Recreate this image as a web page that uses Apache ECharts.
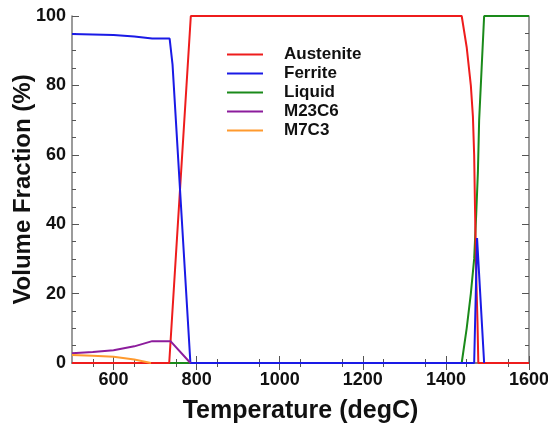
<!DOCTYPE html>
<html>
<head>
<meta charset="utf-8">
<script src="https://cdn.jsdelivr.net/npm/echarts@6/dist/echarts.min.js"></script>
<style>html,body{margin:0;padding:0;background:#fff}#c{width:548px;height:430px}</style>
</head>
<body>
<div id="c"></div>
<script>
// Temperatures (degC) and volume fractions (%)
var austeniteT = [500, 734, 786, 1438, 1450, 1460, 1465, 1468, 1470, 1473, 1476, 1478, 1600];
var austeniteV = [0, 0, 100, 100, 91, 80, 71, 60, 45, 25, 12, 0, 0];
var ferriteT = [500, 550, 600, 650, 693, 735, 742, 785, 1468, 1475, 1492];
var ferriteV = [94.8, 94.7, 94.5, 94.1, 93.5, 93.5, 86, 0, 0, 36, 0];
var liquidT = [500, 1438, 1450, 1460, 1468, 1473, 1477, 1480, 1486, 1492, 1600];
var liquidV = [0, 0, 10, 20, 30, 43, 55, 70, 85, 100, 100];
var m23c6T = [500, 550, 600, 650, 693, 737, 785];
var m23c6V = [2.8, 3.2, 3.7, 4.8, 6.3, 6.3, 0];
var m7c3T = [500, 550, 600, 650, 690];
var m7c3V = [2.3, 2.1, 1.8, 1.0, 0];

var seriesNames = ['Austenite', 'Ferrite', 'Liquid', 'M23C6', 'M7C3'];
var seriesColors = ['#ee1c1c', '#1a1ae6', '#1a8a1a', '#8c1c9c', '#ff9a2e'];
var seriesZ = [3, 4, 2, 5, 6];
var xTicks = [600, 800, 1000, 1200, 1400, 1600];
var yTicks = [0, 20, 40, 60, 80, 100];

function pairs(t, v) { return t.map(function (x, i) { return [x, v[i]]; }); }
var allData = [pairs(austeniteT, austeniteV), pairs(ferriteT, ferriteV), pairs(liquidT, liquidV),
               pairs(m23c6T, m23c6V), pairs(m7c3T, m7c3V)];

var font = 'Arial, "Liberation Sans", sans-serif';
var tickStyle = { show: true, inside: true, length: 7, lineStyle: { color: '#555', width: 1 } };
var minorStyle = { show: true, splitNumber: 4, length: 4, lineStyle: { color: '#555', width: 1 } };
var lineStyleAxis = { show: true, lineStyle: { color: '#7a7a7a', width: 1.5 } };
var plain = function (v) { return String(v); };

var chart = echarts.init(document.getElementById('c'));
chart.setOption({
  animation: false,
  grid: { left: 72, right: 19, top: 16, bottom: 67, containLabel: false, outerBoundsMode: 'none' },
  legend: {
    orient: 'vertical',
    left: 227, top: 46, padding: 0,
    icon: 'rect',
    itemWidth: 36, itemHeight: 2, itemGap: 2,
    data: seriesNames,
    textStyle: { fontFamily: font, fontWeight: 'bold', fontSize: 17, lineHeight: 17, color: '#111', padding: [0, 0, 0, 16] }
  },
  xAxis: [
    {
      type: 'value', min: 500, max: 1600, interval: 200,
      name: 'Temperature (degC)', nameLocation: 'middle', nameGap: 36, nameMoveOverlap: false,
      nameTextStyle: { fontFamily: font, fontWeight: 'bold', fontSize: 25, color: '#111' },
      axisLine: lineStyleAxis,
      axisLabel: { fontFamily: font, fontWeight: 'bold', fontSize: 18, color: '#111', margin: 8,
        customValues: xTicks, formatter: plain },
      axisTick: Object.assign({}, tickStyle, { customValues: xTicks }),
      minorTick: minorStyle,
      splitLine: { show: false }
    },
    {
      type: 'value', position: 'top', min: 500, max: 1600, interval: 200,
      axisLine: lineStyleAxis,
      axisLabel: { show: false },
      axisTick: Object.assign({}, tickStyle, { customValues: xTicks }),
      minorTick: minorStyle,
      splitLine: { show: false }
    }
  ],
  yAxis: [
    {
      type: 'value', min: 0, max: 100, interval: 20,
      name: 'Volume Fraction (%)', nameLocation: 'middle', nameGap: 37, nameMoveOverlap: false,
      nameTextStyle: { fontFamily: font, fontWeight: 'bold', fontSize: 24, color: '#111' },
      axisLine: lineStyleAxis,
      axisLabel: { fontFamily: font, fontWeight: 'bold', fontSize: 18, color: '#111', margin: 6,
        customValues: yTicks, formatter: plain },
      axisTick: Object.assign({}, tickStyle, { customValues: yTicks }),
      minorTick: minorStyle,
      splitLine: { show: false }
    },
    {
      type: 'value', position: 'right', min: 0, max: 100, interval: 20,
      axisLine: lineStyleAxis,
      axisLabel: { show: false },
      axisTick: Object.assign({}, tickStyle, { customValues: yTicks }),
      minorTick: minorStyle,
      splitLine: { show: false }
    }
  ],
  series: seriesNames.map(function (n, i) {
    return {
      name: n, type: 'line', data: allData[i], symbol: 'none',
      xAxisIndex: 0, yAxisIndex: 0,
      color: seriesColors[i],
      itemStyle: { color: seriesColors[i] },
      lineStyle: { width: 2, color: seriesColors[i] },
      z: seriesZ[i]
    };
  })
});
</script>
</body>
</html>
